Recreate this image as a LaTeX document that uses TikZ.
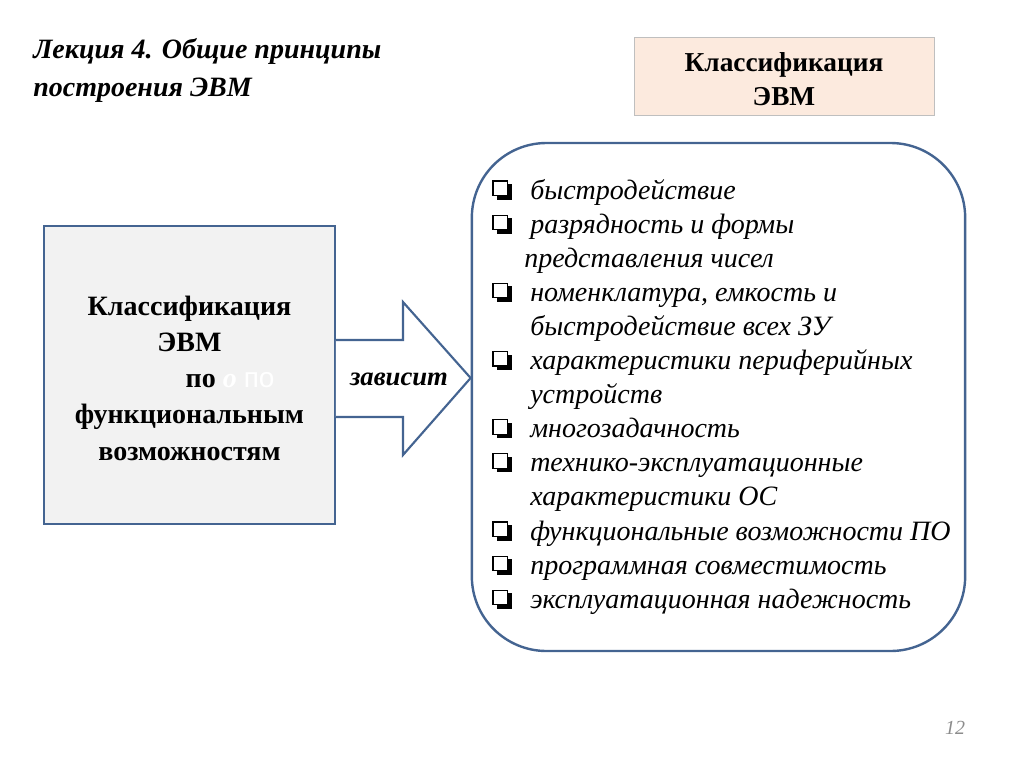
\documentclass[tikz,border=0pt]{standalone}
\usepackage{fontspec}
\setmainfont{Liberation Serif}
\setsansfont{Liberation Sans}
\usetikzlibrary{positioning}
\definecolor{framebl}{RGB}{68,100,145}
\definecolor{peach}{RGB}{252,234,222}
\definecolor{boxgray}{RGB}{242,242,242}
\tikzset{
  mainbox/.style={draw=framebl,line width=1.6pt,fill=boxgray,minimum width=218pt,minimum height=223pt},
  maintext/.style={align=center,font=\fontsize{21}{27.2}\selectfont\bfseries},
  headbox/.style={draw=black!25,line width=0.6pt,fill=peach,minimum width=225pt,minimum height=59pt},
  headtext/.style={align=center,font=\fontsize{20.5}{25.5}\selectfont\bfseries},
  listbox/.style={draw=framebl,line width=1.8pt,rounded corners=56pt,minimum width=370pt,minimum height=381pt},
  blockarrow/.style={draw=framebl,line width=1.6pt,fill=white,line join=miter},
  item/.style={anchor=base west,inner sep=0pt,font=\fontsize{21}{25}\selectfont\itshape},
  chk/.style={draw=black,line width=0.8pt,fill=white}
}
\begin{document}
\begin{tikzpicture}[x=0.75pt,y=-0.75pt]
\useasboundingbox (0,0) rectangle (1024,768);
\node[anchor=base west,inner sep=0pt,align=left,font=\fontsize{21}{28.5}\selectfont\bfseries\itshape] (title) at (33,96) {Лекция 4. Общие принципы\\построения ЭВМ};
\node[headbox] (head) at (784,76.5) {};
\node[headtext] (headtxt) at (784,79.5) {Классификация\\ЭВМ};
\node[mainbox] (klass) at (189.5,375) {};
\node[maintext] (klasstxt) at (189.5,378) {Классификация\\ЭВМ\\\hspace*{2.9em}по \textcolor{white}{\textit{о} {\sffamily\mdseries по}}\\функциональным\\возможностям};
\node[listbox] (props) at (718.5,397) {};
\coordinate (tip) at (props.west |- 0,378);
\draw[blockarrow] (klass.east |- 0,340) -- (403,340) -- (403,302) -- (tip) -- (403,455) -- (403,417) -- (klass.east |- 0,417);
\node[font=\fontsize{20}{24}\selectfont\bfseries\itshape] (dep) at (399,379) {зависит};
\foreach \k in {0,1,3,5,7,8,10,11,12} {
  \fill[black] (496.5,184+34.1*\k) rectangle (511.5,199.5+34.1*\k);
  \draw[chk] (493,181+34.1*\k) rectangle (507.5,195.5+34.1*\k);
}
\node[item] (i1) at (530,199) {быстродействие};
\node[item] (i2) at (530,233.1) {разрядность и формы};
\node[item] (i2b) at (524,267.2) {представления чисел};
\node[item] (i3) at (530,301.3) {номенклатура, емкость и};
\node[item] (i3b) at (530,335.4) {быстродействие всех ЗУ};
\node[item] (i4) at (530,369.5) {характеристики периферийных};
\node[item] (i4b) at (530,403.6) {устройств};
\node[item] (i5) at (530,437.7) {многозадачность};
\node[item] (i6) at (530,471.8) {технико-эксплуатационные};
\node[item] (i6b) at (530,505.9) {характеристики ОС};
\node[item] (i7) at (530,540) {функциональные возможности ПО};
\node[item] (i8) at (530,574.1) {программная совместимость};
\node[item] (i9) at (530,608.2) {эксплуатационная надежность};
\node[anchor=base,text=black!45,font=\fontsize{15}{18}\selectfont\itshape] (page) at (955,734) {12};
\end{tikzpicture}
\end{document}
